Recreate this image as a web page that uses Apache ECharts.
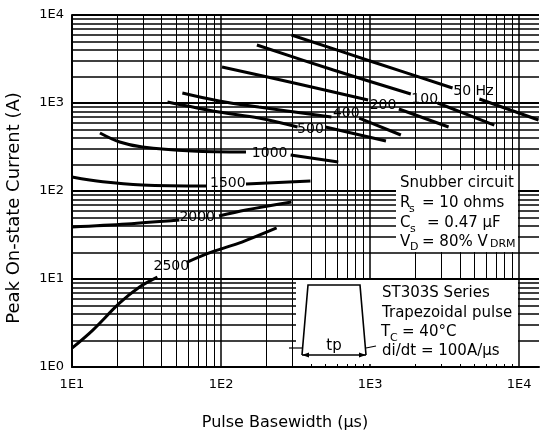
<!DOCTYPE html>
<html>
<head>
<meta charset="utf-8">
<script src="https://cdn.jsdelivr.net/npm/echarts@6/dist/echarts.min.js"></script>
<style>
  html, body { margin: 0; padding: 0; background: #fff; }
  #chart { width: 542px; height: 439px; }
</style>
</head>
<body>
<div id="chart"></div>
<script>
// Peak on-state current (A) against pulse basewidth (µs), one curve per repetition rate.
// Each curve is split in two where its rate label sits on the line.
const f50a = [[297, 5926], [1047, 2924], [3575, 1481]];
const f50b = [[5412, 1110], [13500, 641]];
const f100a = [[174, 4561], [567, 2371], [1877, 1266]];
const f100b = [[2840, 1000], [6813, 562]];
const f200a = [[101.5, 2565], [331, 1644], [970, 1082]];
const f200b = [[1561, 855], [3363, 534]];
const f400a = [[55, 1299], [97, 1054], [179, 901], [550, 693]];
const f400b = [[845, 675], [1609, 433]];
const f500a = [[43.7, 1027], [97, 790], [179, 675], [326, 534]];
const f500b = [[501, 534], [1278, 370]];
const f1000a = [[15.4, 456], [20.9, 360], [29.7, 316], [64, 285], [147, 277]];
const f1000b = [[293, 257], [612, 214]];
const f1500a = [[10, 144], [16.1, 127], [29.7, 117], [79.4, 114]];
const f1500b = [[147, 120], [398, 130]];
const f2000a = [[10, 39], [23.3, 42.2], [52.5, 46.8]];
const f2000b = [[97, 52], [147, 60.8], [297, 75]];
const f2500a = [[10, 1.64], [13.8, 2.63], [20.9, 5.34], [28.4, 8.11], [37.4, 10.5]];
const f2500b = [[59.3, 15.6], [87.1, 20.3], [138, 26.3], [236, 38]];

// Rate labels placed in the gaps of the curves: [x, y, text]
const curveLabels = [
  [4935, 1369, '50 Hz'], [2326, 1110, '100'], [1221, 949, '200'],
  [692, 770, '400'], [398, 506, '500'], [212, 270, '1000'],
  [111, 123, '1500'], [69.2, 50.6, '2000'], [46.4, 14.05, '2500']
];

// Decade tick labels
const xTickValues = [10, 100, 1000, 10000];
const xTickLabels = ['1E1', '1E2', '1E3', '1E4'];
const yTickValues = [1, 10, 100, 1000, 10000];
const yTickLabels = ['1E0', '1E1', '1E2', '1E3', '1E4'];

const X_MIN = 10, X_MAX = 13594, Y_MIN = 1, Y_MAX = 10000;
const FONT = '"DejaVu Sans", sans-serif';

function decadeLabel(values, labels) {
  return function (v) {
    for (let i = 0; i < values.length; i++) {
      if (Math.abs(Math.log10(v) - Math.log10(values[i])) < 1e-6) return labels[i];
    }
    return '';
  };
}

// Log grid: decade lines heavier, 2..9 lines lighter
const gridLines = [];
for (let d = 0; d <= 4; d++) {
  for (let k = 1; k < 10; k++) {
    const v = k * Math.pow(10, d);
    if (v <= Y_MIN || v > Y_MAX) continue;
    gridLines.push({ yAxis: v, lineStyle: { color: '#000', width: k === 1 ? 2 : 1.5, type: 'solid' } });
  }
}
for (let d = 1; d <= 4; d++) {
  for (let k = 1; k < 10; k++) {
    const v = k * Math.pow(10, d);
    if (v <= X_MIN || v > X_MAX) continue;
    gridLines.push({ xAxis: v, lineStyle: { color: '#000', width: k === 1 ? 1.5 : 1, type: 'solid' } });
  }
}

function curve(data) {
  return {
    type: 'line', data: data, smooth: 0.35, showSymbol: false, symbol: 'none',
    lineStyle: { color: '#000', width: 3 }, z: 5, silent: true, animation: false
  };
}

const series = [
  {
    type: 'line', data: [[X_MIN, Y_MIN]], symbol: 'none', lineStyle: { width: 0 }, silent: true, z: 1,
    markLine: {
      silent: true, symbol: ['none', 'none'], label: { show: false }, animation: false,
      data: gridLines
    }
  },
  curve(f50a), curve(f50b), curve(f100a), curve(f100b), curve(f200a), curve(f200b),
  curve(f400a), curve(f400b), curve(f500a), curve(f500b), curve(f1000a), curve(f1000b),
  curve(f1500a), curve(f1500b), curve(f2000a), curve(f2000b), curve(f2500a), curve(f2500b),
  {
    type: 'scatter', data: curveLabels, symbolSize: 0, itemStyle: { color: '#000', opacity: 1 },
    z: 6, silent: true, animation: false,
    label: {
      show: true, position: 'inside', formatter: p => p.value[2],
      color: '#000', opacity: 1, fontSize: 14, fontFamily: FONT, textBorderWidth: 0
    }
  }
];

// Annotation text helper
const T = (x, y, text, size, align, extra) => Object.assign({
  type: 'text', x: x, y: y, z: 102,
  style: {
    text: text, fill: '#000', font: size + 'px ' + FONT,
    textAlign: align || 'left', align: align || 'left',
    textVerticalAlign: 'middle', verticalAlign: 'middle'
  }
}, extra || {});

const graphic = [
  // axis titles
  T(14, 208, 'Peak On-state Current (A)', 18, 'center', { rotation: Math.PI / 2 }),
  T(285, 423, 'Pulse Basewidth (µs)', 16, 'center'),
  // snubber conditions
  { type: 'rect', z: 100, shape: { x: 396, y: 170, width: 122, height: 82 }, style: { fill: '#fff' } },
  T(400, 183, 'Snubber circuit', 15),
  T(400, 203, 'R', 15), T(409, 209, 's', 11), T(422, 203, '= 10 ohms', 15),
  T(400, 223, 'C', 15), T(410, 229, 's', 11), T(427, 223, '= 0.47 µF', 15),
  T(400, 242, 'V', 15), T(410, 247, 'D', 11), T(422, 242, '= 80% V', 15), T(490, 244, 'DRM', 11),
  // pulse conditions
  { type: 'rect', z: 100, shape: { x: 296, y: 280, width: 222, height: 84 }, style: { fill: '#fff' } },
  T(382, 293, 'ST303S Series', 15),
  T(382, 313, 'Trapezoidal pulse', 15),
  T(381, 332, 'T', 15), T(390, 338, 'C', 11), T(402, 332, '= 40°C', 15),
  T(382, 351, 'di/dt = 100A/µs', 15),
  // trapezoidal pulse sketch
  { type: 'polyline', z: 101, shape: { points: [[289, 348], [302, 348]] }, style: { stroke: '#000', lineWidth: 1.2, fill: null } },
  { type: 'polyline', z: 101, shape: { points: [[366, 348], [376, 346]] }, style: { stroke: '#000', lineWidth: 1.2, fill: null } },
  { type: 'polyline', z: 101, shape: { points: [[302, 355], [308, 285], [360, 285], [366, 355]] }, style: { stroke: '#000', lineWidth: 1.6, fill: null } },
  { type: 'line', z: 101, shape: { x1: 302, y1: 355, x2: 366, y2: 355 }, style: { stroke: '#000', lineWidth: 1.6 } },
  { type: 'polygon', z: 101, shape: { points: [[302, 355], [309, 352.5], [309, 357.5]] }, style: { fill: '#000' } },
  { type: 'polygon', z: 101, shape: { points: [[366, 355], [359, 352.5], [359, 357.5]] }, style: { fill: '#000' } },
  T(334, 346, 'tp', 15, 'center')
];

const chart = echarts.init(document.getElementById('chart'), null, { renderer: 'canvas' });
chart.setOption({
  animation: false,
  backgroundColor: '#fff',
  grid: { left: 72, right: 0, top: 15, bottom: 72 },
  xAxis: {
    type: 'log', logBase: 10, min: X_MIN, max: X_MAX,
    axisLine: { show: true, lineStyle: { color: '#000', width: 2 } },
    axisTick: { show: false },
    splitLine: { show: false },
    axisLabel: { color: '#000', fontSize: 13, fontFamily: FONT, margin: 11, formatter: decadeLabel(xTickValues, xTickLabels) }
  },
  yAxis: {
    type: 'log', logBase: 10, min: Y_MIN, max: Y_MAX,
    axisLine: { show: true, lineStyle: { color: '#000', width: 2 } },
    axisTick: { show: false },
    splitLine: { show: false },
    axisLabel: { color: '#000', fontSize: 13, fontFamily: FONT, margin: 8, formatter: decadeLabel(yTickValues, yTickLabels) }
  },
  series: series,
  graphic: graphic
});
</script>
</body>
</html>
